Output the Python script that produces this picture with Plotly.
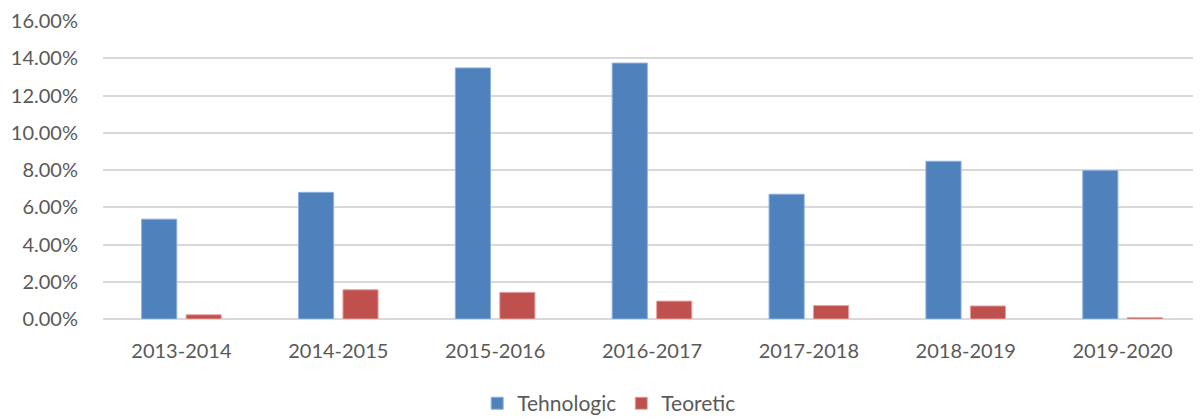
import plotly.graph_objects as go

years = ["2013-2014", "2014-2015", "2015-2016", "2016-2017", "2017-2018", "2018-2019", "2019-2020"]
tehnologic = [0.0536, 0.0680, 0.1348, 0.1374, 0.0670, 0.0847, 0.0797]
teoretic = [0.0023, 0.0157, 0.0143, 0.0096, 0.0072, 0.0070, 0.0008]

font_family = "Lato, 'Open Sans', sans-serif"
text_color = "#595959"

fig = go.Figure()
fig.add_trace(go.Bar(name="Tehnologic", x=years, y=tehnologic,
                     marker=dict(color="#4F81BD", line=dict(color="#8DB0DC", width=1))))
fig.add_trace(go.Bar(name="Teoretic", x=years, y=teoretic,
                     marker=dict(color="#C0504D", line=dict(color="#E3A3A1", width=1))))

# the page body adds an 8px offset, so the figure is sized to fit 1201x418 after it
fig.update_layout(
    width=1193, height=410,
    margin=dict(l=95, r=0, t=13, b=99, autoexpand=False),
    paper_bgcolor="white", plot_bgcolor="white",
    barmode="group", bargap=0.433, bargroupgap=0.21,
    font=dict(family=font_family, size=20, color=text_color),
    legend=dict(orientation="h", x=0.461, xanchor="center", y=-0.215, yanchor="top",
                font=dict(size=21, color=text_color), traceorder="normal"),
    xaxis=dict(showgrid=False, showline=False, ticks="outside", ticklen=14,
               tickcolor="rgba(0,0,0,0)", tickfont=dict(size=20), automargin=False),
    yaxis=dict(range=[0, 0.16], dtick=0.02, tickformat=".2%", showgrid=True,
               gridcolor="#D9D9D9", gridwidth=1.5, zeroline=True, zerolinecolor="#D9D9D9",
               zerolinewidth=1.5, showline=False, ticks="outside", ticklen=20,
               tickcolor="rgba(0,0,0,0)", tickfont=dict(size=20), automargin=False),
)

fig.write_html("out.html")
